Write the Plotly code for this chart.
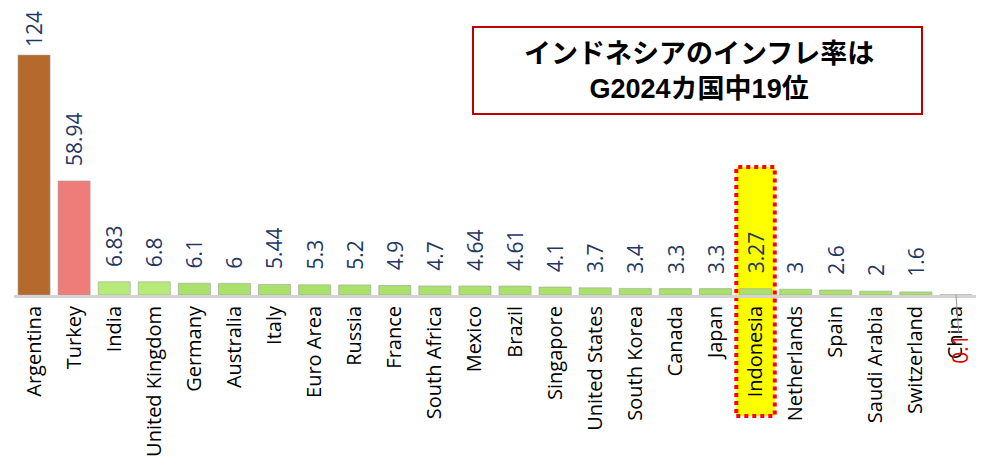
import plotly.graph_objects as go

countries = ["Argentina", "Turkey", "India", "United Kingdom", "Germany", "Australia", "Italy",
             "Euro Area", "Russia", "France", "South Africa", "Mexico", "Brazil", "Singapore",
             "United States", "South Korea", "Canada", "Japan", "Indonesia", "Netherlands",
             "Spain", "Saudi Arabia", "Switzerland", "China"]
values = [124, 58.94, 6.83, 6.8, 6.1, 6, 5.44, 5.3, 5.2, 4.9, 4.7, 4.64, 4.61, 4.1,
          3.7, 3.4, 3.3, 3.3, 3.27, 3, 2.6, 2, 1.6, 0.1]
value_labels = ["124", "58.94", "6.83", "6.8", "6.1", "6", "5.44", "5.3", "5.2", "4.9", "4.7",
                "4.64", "4.61", "4.1", "3.7", "3.4", "3.3", "3.3", "3.27", "3", "2.6", "2", "1.6", "0.1"]
highlight = "Indonesia"
title_lines = ["インドネシアのインフレ率は", "G2024カ国中19位"]

colors = []
for i, c in enumerate(countries):
    if i == 0:
        colors.append("#b6692d")
    elif i == 1:
        colors.append("#ee7d79")
    elif i in (2, 3):
        colors.append("#b6eb7a")
    else:
        colors.append("#aae06c")

FONT = "Open Sans, Noto Sans, sans-serif"

# page offset (body margin 8px) compensated in margins
L, R, T, B = 6, 23, 2, 185
PX0, PW, PY_BASE, PH = 14, 962, 295, 285

fig = go.Figure()
fig.add_trace(go.Bar(
    x=countries, y=values,
    marker=dict(color=colors, line=dict(color="rgba(160,160,160,0.6)", width=1)),
    hoverinfo="x+y",
))

annotations = []
for i, (c, v, lab) in enumerate(zip(countries, values, value_labels)):
    if c == "China":
        annotations.append(dict(
            x=c, y=v, xref="x", yref="y", text=lab, textangle=-90,
            font=dict(family=FONT, size=21, color="#e00000"),
            showarrow=True, arrowhead=0, arrowwidth=1, arrowcolor="#999999",
            ax=4, ay=54, standoff=0,
        ))
    else:
        annotations.append(dict(
            x=c, y=v, xref="x", yref="y", text=lab, textangle=-90,
            font=dict(family=FONT, size=21, color="#1f3864"),
            showarrow=False, yanchor="bottom", yshift=6 if i == 0 else 13,
        ))

# title box text
annotations.append(dict(
    xref="paper", yref="paper", x=(699 - PX0) / PW, y=(PY_BASE - 71) / PH,
    text="<b>" + "<br>".join(title_lines) + "</b>",
    showarrow=False, xanchor="center", yanchor="middle",
    font=dict(family="Liberation Sans, Noto Sans CJK JP, sans-serif", size=27, color="black"),
))

hi = countries.index(highlight)
shapes = [
    dict(type="rect", xref="x", yref="paper",
         x0=hi - 0.48, x1=hi + 0.48, y0=(PY_BASE - 416) / PH, y1=(PY_BASE - 167) / PH,
         fillcolor="#ffff00", line=dict(color="#ff0000", width=4, dash="dot"), layer="below"),
    dict(type="rect", xref="paper", yref="paper",
         x0=(473 - PX0) / PW, x1=(922 - PX0) / PW, y0=(PY_BASE - 114) / PH, y1=(PY_BASE - 27) / PH,
         fillcolor="white", line=dict(color="#c00000", width=2), layer="above"),
]

fig.update_layout(
    width=991, height=472,
    margin=dict(l=L, r=R, t=T, b=B),
    plot_bgcolor="white", paper_bgcolor="white",
    bargap=0.2,
    showlegend=False,
    annotations=annotations,
    shapes=shapes,
    xaxis=dict(tickangle=-90, tickfont=dict(family=FONT, size=20, color="black"),
               showline=True, linecolor="#d4d4d4", linewidth=3, ticks="",
               showgrid=False, zeroline=False, range=[-0.5, 23.5], automargin=False),
    yaxis=dict(range=[0, 147.3], visible=False, showgrid=False, zeroline=False,
               automargin=False),
)

fig.write_html("out.html")
